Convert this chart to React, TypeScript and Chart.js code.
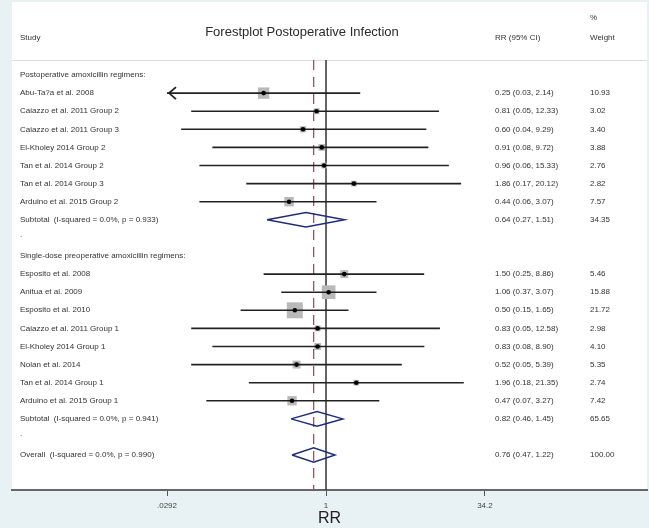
import React, { useEffect, useRef } from "react";
import { Chart, registerables } from "chart.js";

Chart.register(...registerables);

// ---------------- data ----------------
const TITLE = "Forestplot Postoperative Infection";
const GROUP_LABELS = [
  "Postoperative amoxicillin regimens:",
  "Single-dose preoperative amoxicillin regimens:",
];
const STUDIES = [
  "Abu-Ta?a et al. 2008",
  "Caiazzo et al. 2011 Group 2",
  "Caiazzo et al. 2011 Group 3",
  "El-Kholey 2014 Group 2",
  "Tan et al. 2014 Group 2",
  "Tan et al. 2014 Group 3",
  "Arduino et al. 2015 Group 2",
  "Esposito et al. 2008",
  "Anitua et al. 2009",
  "Esposito et al. 2010",
  "Caiazzo et al. 2011 Group 1",
  "El-Kholey 2014 Group 1",
  "Nolan et al. 2014",
  "Tan et al. 2014 Group 1",
  "Arduino et al. 2015 Group 1",
];
const STUDY_GROUP = [0, 0, 0, 0, 0, 0, 0, 1, 1, 1, 1, 1, 1, 1, 1];
const RR = [0.25, 0.81, 0.6, 0.91, 0.96, 1.86, 0.44, 1.5, 1.06, 0.5, 0.83, 0.83, 0.52, 1.96, 0.47];
const LO = [0.029, 0.05, 0.04, 0.08, 0.06, 0.17, 0.06, 0.25, 0.37, 0.15, 0.05, 0.08, 0.05, 0.18, 0.07];
const HI = [2.14, 12.33, 9.29, 9.72, 15.33, 20.12, 3.07, 8.86, 3.07, 1.65, 12.58, 8.9, 5.39, 21.35, 3.27];
const WEIGHT = [10.93, 3.02, 3.4, 3.88, 2.76, 2.82, 7.57, 5.46, 15.88, 21.72, 2.98, 4.1, 5.35, 2.74, 7.42];

const POOLED_LABELS = [
  "Subtotal  (I-squared = 0.0%, p = 0.933)",
  "Subtotal  (I-squared = 0.0%, p = 0.941)",
  "Overall  (I-squared = 0.0%, p = 0.990)",
];
const POOLED_RR = [0.64, 0.82, 0.76];
const POOLED_LO = [0.27, 0.46, 0.47];
const POOLED_HI = [1.51, 1.45, 1.22];
const POOLED_WEIGHT = [34.35, 65.65, 100.0];

const X_TICKS = [0.0292, 1, 34.2];
const X_TICK_LABELS = [".0292", "1", "34.2"];
const NULL_VALUE = 1;

// ---------------- style ----------------
const W = 649;
const H = 528;
const FONT = "'Liberation Sans', Arial, sans-serif";
const TEXT_COLOR = "#333";
const BOX_COLOR = "#b9b9b9";
const DIAMOND_COLOR = "#1f2d78";
const DASH_COLOR = "#9a5563";
const BG_COLOR = "#e8f1f4";
const X_MIN = 0.000932;
const X_MAX = 1253;
const Y_MIN = -0.83;
const Y_MAX = 22.93;
const BOX_K = 3.43;
const DIAMOND_HALF = 0.4;

// ---------------- rows ----------------
type Row =
  | { kind: "group"; g: number }
  | { kind: "study"; i: number }
  | { kind: "pooled"; i: number }
  | { kind: "blank" };

function buildRows(): Row[] {
  const rows: Row[] = [];
  GROUP_LABELS.forEach((_, g) => {
    rows.push({ kind: "group", g });
    STUDIES.forEach((_, i) => {
      if (STUDY_GROUP[i] === g) rows.push({ kind: "study", i });
    });
    rows.push({ kind: "pooled", i: g });
    rows.push({ kind: "blank" });
  });
  rows.push({ kind: "pooled", i: POOLED_LABELS.length - 1 });
  return rows;
}

const fmt = (rr: number, lo: number, hi: number) =>
  `${rr.toFixed(2)} (${lo.toFixed(2)}, ${hi.toFixed(2)})`;

export default function App() {
  const ref = useRef<HTMLCanvasElement | null>(null);

  useEffect(() => {
    const canvas = ref.current;
    if (!canvas) return;
    const rows = buildRows();
    const axisMin = X_TICKS[0];

    const datasets: any[] = [];

    datasets.push({
      data: [
        { x: NULL_VALUE, y: Y_MIN },
        { x: NULL_VALUE, y: Y_MAX },
      ],
      showLine: true,
      borderColor: "#333",
      borderWidth: 1.5,
      pointRadius: 0,
      order: 10,
    });
    const overallIdx = POOLED_RR.length - 1;
    datasets.push({
      data: [
        { x: POOLED_RR[overallIdx], y: Y_MIN },
        { x: POOLED_RR[overallIdx], y: Y_MAX },
      ],
      showLine: true,
      borderColor: DASH_COLOR,
      borderWidth: 1.3,
      borderDash: [10, 7],
      pointRadius: 0,
      order: 9,
    });

    const boxData: any[] = [];
    const boxRadius: number[] = [];
    const dotData: any[] = [];
    rows.forEach((r, y) => {
      if (r.kind === "study") {
        boxData.push({ x: RR[r.i], y });
        boxRadius.push((BOX_K * Math.sqrt(WEIGHT[r.i])) / Math.SQRT2);
        dotData.push({ x: RR[r.i], y });
        datasets.push({
          data: [
            { x: Math.max(LO[r.i], axisMin), y },
            { x: HI[r.i], y },
          ],
          showLine: true,
          borderColor: "#222",
          borderWidth: 1.6,
          pointRadius: 0,
          order: 3,
        });
      } else if (r.kind === "pooled") {
        const i = r.i;
        datasets.push({
          data: [
            { x: POOLED_LO[i], y },
            { x: POOLED_RR[i], y: y - DIAMOND_HALF },
            { x: POOLED_HI[i], y },
            { x: POOLED_RR[i], y: y + DIAMOND_HALF },
            { x: POOLED_LO[i], y },
          ],
          showLine: true,
          borderColor: DIAMOND_COLOR,
          borderWidth: 1.5,
          pointRadius: 0,
          tension: 0,
          order: 2,
        });
      }
    });
    datasets.push({
      data: boxData,
      pointStyle: "rect",
      pointRadius: boxRadius,
      backgroundColor: BOX_COLOR,
      borderWidth: 0,
      order: 5,
    });
    datasets.push({
      data: dotData,
      pointStyle: "circle",
      pointRadius: 2.3,
      backgroundColor: "#000",
      borderWidth: 0,
      order: 1,
    });

    const bgPlugin = {
      id: "bgPanel",
      beforeDraw(chart: any) {
        const ctx = chart.ctx;
        const area = chart.chartArea;
        ctx.save();
        ctx.fillStyle = BG_COLOR;
        ctx.fillRect(0, 0, W, H);
        ctx.fillStyle = "#ffffff";
        ctx.fillRect(area.left, 2, area.right - area.left, area.bottom - 2);
        ctx.strokeStyle = "#dddddd";
        ctx.lineWidth = 1;
        ctx.beginPath();
        ctx.moveTo(area.left, area.top + 0.5);
        ctx.lineTo(area.right, area.top + 0.5);
        ctx.stroke();
        ctx.restore();
      },
    };

    const textPlugin = {
      id: "forestText",
      afterDatasetsDraw(chart: any) {
        const ctx = chart.ctx;
        const xs = chart.scales.x;
        const ys = chart.scales.y;
        ctx.save();
        ctx.strokeStyle = "#222";
        ctx.lineWidth = 1.8;
        rows.forEach((r, y) => {
          if (r.kind === "study" && LO[r.i] < axisMin) {
            const px = xs.getPixelForValue(axisMin) + 2;
            const py = ys.getPixelForValue(y);
            ctx.beginPath();
            ctx.moveTo(px + 7, py - 6);
            ctx.lineTo(px, py);
            ctx.lineTo(px + 7, py + 6);
            ctx.stroke();
          }
        });
        ctx.restore();
      },
      afterDraw(chart: any) {
        const ctx = chart.ctx;
        const ys = chart.scales.y;
        const colStudy = 20;
        const colRR = 495;
        const colW = 590;
        ctx.save();
        ctx.fillStyle = TEXT_COLOR;
        ctx.textBaseline = "middle";
        ctx.textAlign = "left";
        ctx.font = `8px ${FONT}`;
        ctx.fillText("Study", colStudy, 38);
        ctx.fillText("RR (95% CI)", colRR, 38);
        ctx.fillText("%", colW, 18);
        ctx.fillText("Weight", colW, 38);
        rows.forEach((r, y) => {
          const py = ys.getPixelForValue(y);
          if (r.kind === "group") {
            ctx.fillText(GROUP_LABELS[r.g], colStudy, py);
          } else if (r.kind === "study") {
            ctx.fillText(STUDIES[r.i], colStudy, py);
            ctx.fillText(fmt(RR[r.i], LO[r.i], HI[r.i]), colRR, py);
            ctx.fillText(WEIGHT[r.i].toFixed(2), colW, py);
          } else if (r.kind === "pooled") {
            ctx.fillText(POOLED_LABELS[r.i], colStudy, py);
            ctx.fillText(fmt(POOLED_RR[r.i], POOLED_LO[r.i], POOLED_HI[r.i]), colRR, py);
            ctx.fillText(POOLED_WEIGHT[r.i].toFixed(2), colW, py);
          } else {
            ctx.fillText(".", colStudy, py - 3);
          }
        });
        ctx.font = `13px ${FONT}`;
        ctx.fillStyle = "#2a2a2a";
        ctx.textAlign = "center";
        ctx.fillText(TITLE, 302, 32);
        ctx.restore();
      },
    };

    const chart = new Chart(canvas, {
      type: "scatter",
      data: { datasets },
      options: {
        animation: false,
        responsive: false,
        devicePixelRatio: 1,
        layout: { autoPadding: false, padding: { left: 12, right: 2, top: 60, bottom: 0 } },
        plugins: {
          legend: { display: false },
          tooltip: { enabled: false },
          title: { display: false },
        },
        scales: {
          x: {
            type: "logarithmic",
            min: X_MIN,
            max: X_MAX,
            afterBuildTicks: (s: any) => {
              s.ticks = X_TICKS.map((v) => ({ value: v }));
            },
            afterFit: (s: any) => {
              s.height = 38;
              s.paddingLeft = 0;
              s.paddingRight = 0;
            },
            ticks: {
              autoSkip: false,
              maxRotation: 0,
              padding: 5,
              color: "#444",
              font: { size: 8, family: FONT },
              callback: (_v: any, i: number) => X_TICK_LABELS[i],
            },
            grid: {
              display: true,
              drawOnChartArea: false,
              drawTicks: true,
              tickLength: 6,
              color: "#555",
              lineWidth: 1,
            },
            border: { display: true, color: "#666", width: 2 },
            title: {
              display: true,
              text: "RR",
              color: "#222",
              font: { size: 16, family: FONT },
              padding: { top: 0, bottom: 0 },
            },
          },
          y: {
            type: "linear",
            display: false,
            reverse: true,
            min: Y_MIN,
            max: Y_MAX,
          },
        },
      },
      plugins: [bgPlugin, textPlugin],
    } as any);

    return () => chart.destroy();
  }, []);

  return (
    <div style={{ position: "fixed", left: 0, top: 0, width: W, height: H }}>
      <canvas ref={ref} width={W} height={H} style={{ display: "block", width: W, height: H }} />
    </div>
  );
}
